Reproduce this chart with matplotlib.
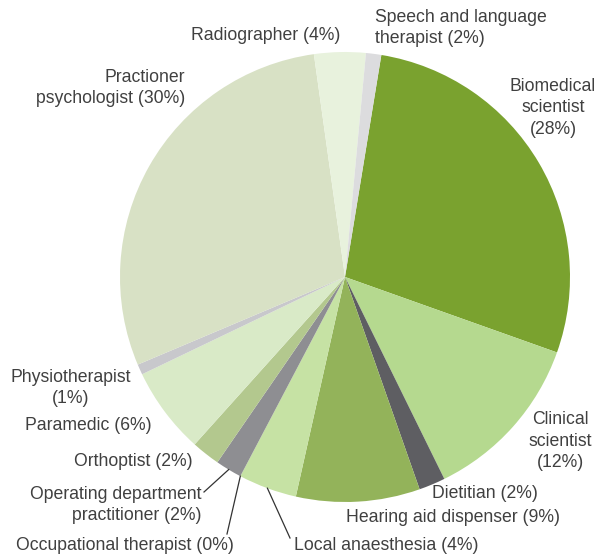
import numpy as np
import matplotlib
matplotlib.use("Agg")
import matplotlib.pyplot as plt

# professions, clockwise from the top
labels = ["Biomedical\nscientist\n(28%)", "Clinical\nscientist\n(12%)", "Dietitian (2%)",
          "Hearing aid dispenser (9%)", "Local anaesthesia (4%)", "Occupational therapist (0%)",
          "Operating department\npractitioner (2%)", "Orthoptist (2%)", "Paramedic (6%)",
          "Physiotherapist\n(1%)", "Practioner\npsychologist (30%)", "Radiographer (4%)",
          "Speech and language\ntherapist (2%)"]
shares = [27.9, 12.3, 1.9, 8.9, 4.2, 0.0, 1.9, 2.05, 6.25, 0.75, 29.2, 3.7, 1.1]
colors = ["#7aa22f", "#b5d98f", "#5e5e62", "#93b35a", "#c6e2a4", "#8e8e92", "#8e8e92",
          "#b3c88e", "#d9eac7", "#c8c8cc", "#d8e1c5", "#e8f2dd", "#dcdcde"]

# label anchor (pixel x, pixel y, ha), and where a leader line is used
label_pos = [(553, 108, "center"), (560, 441, "center"), (432, 494, "left"),
             (346, 518, "left"), (294, 545, "left"), (234, 545, "right"),
             (201, 505, "right"), (193, 462, "right"), (152, 425, "right"),
             (71, 388, "center"), (185, 88, "right"), (340, 35, "right"),
             (375, 28, "left")]
leaders = {4: (290, 538), 5: (227, 534), 6: (204, 492)}

W, H = 596, 558
cx, cy, R = 345, 277, 225

fig = plt.figure(figsize=(W / 100, H / 100), dpi=100)
ax = fig.add_axes([0, 0, 1, 1])


def to_data(px, py):
    return (px - cx) / R, (cy - py) / R


wedges, _ = ax.pie(shares, colors=colors, startangle=80.7, counterclock=False,
                   radius=1, center=(0, 0), frame=True,
                   wedgeprops=dict(linewidth=0))
ax.set_xlim(-cx / R, (W - cx) / R)
ax.set_ylim((cy - H) / R, cy / R)
ax.set_aspect("auto")
ax.axis("off")

for i, (lab, (px, py, ha)) in enumerate(zip(labels, label_pos)):
    x, y = to_data(px, py)
    ax.text(x, y, lab, ha=ha, va="center", multialignment=ha, fontsize=12.7,
            color="#404040", family="Liberation Sans", linespacing=1.38)
    if i in leaders:
        w = wedges[i]
        mid = np.deg2rad((w.theta1 + w.theta2) / 2)
        ex, ey = to_data(*leaders[i])
        ax.plot([np.cos(mid), ex], [np.sin(mid), ey], color="#333333", lw=0.9)

fig.savefig("out.png", dpi=100)
